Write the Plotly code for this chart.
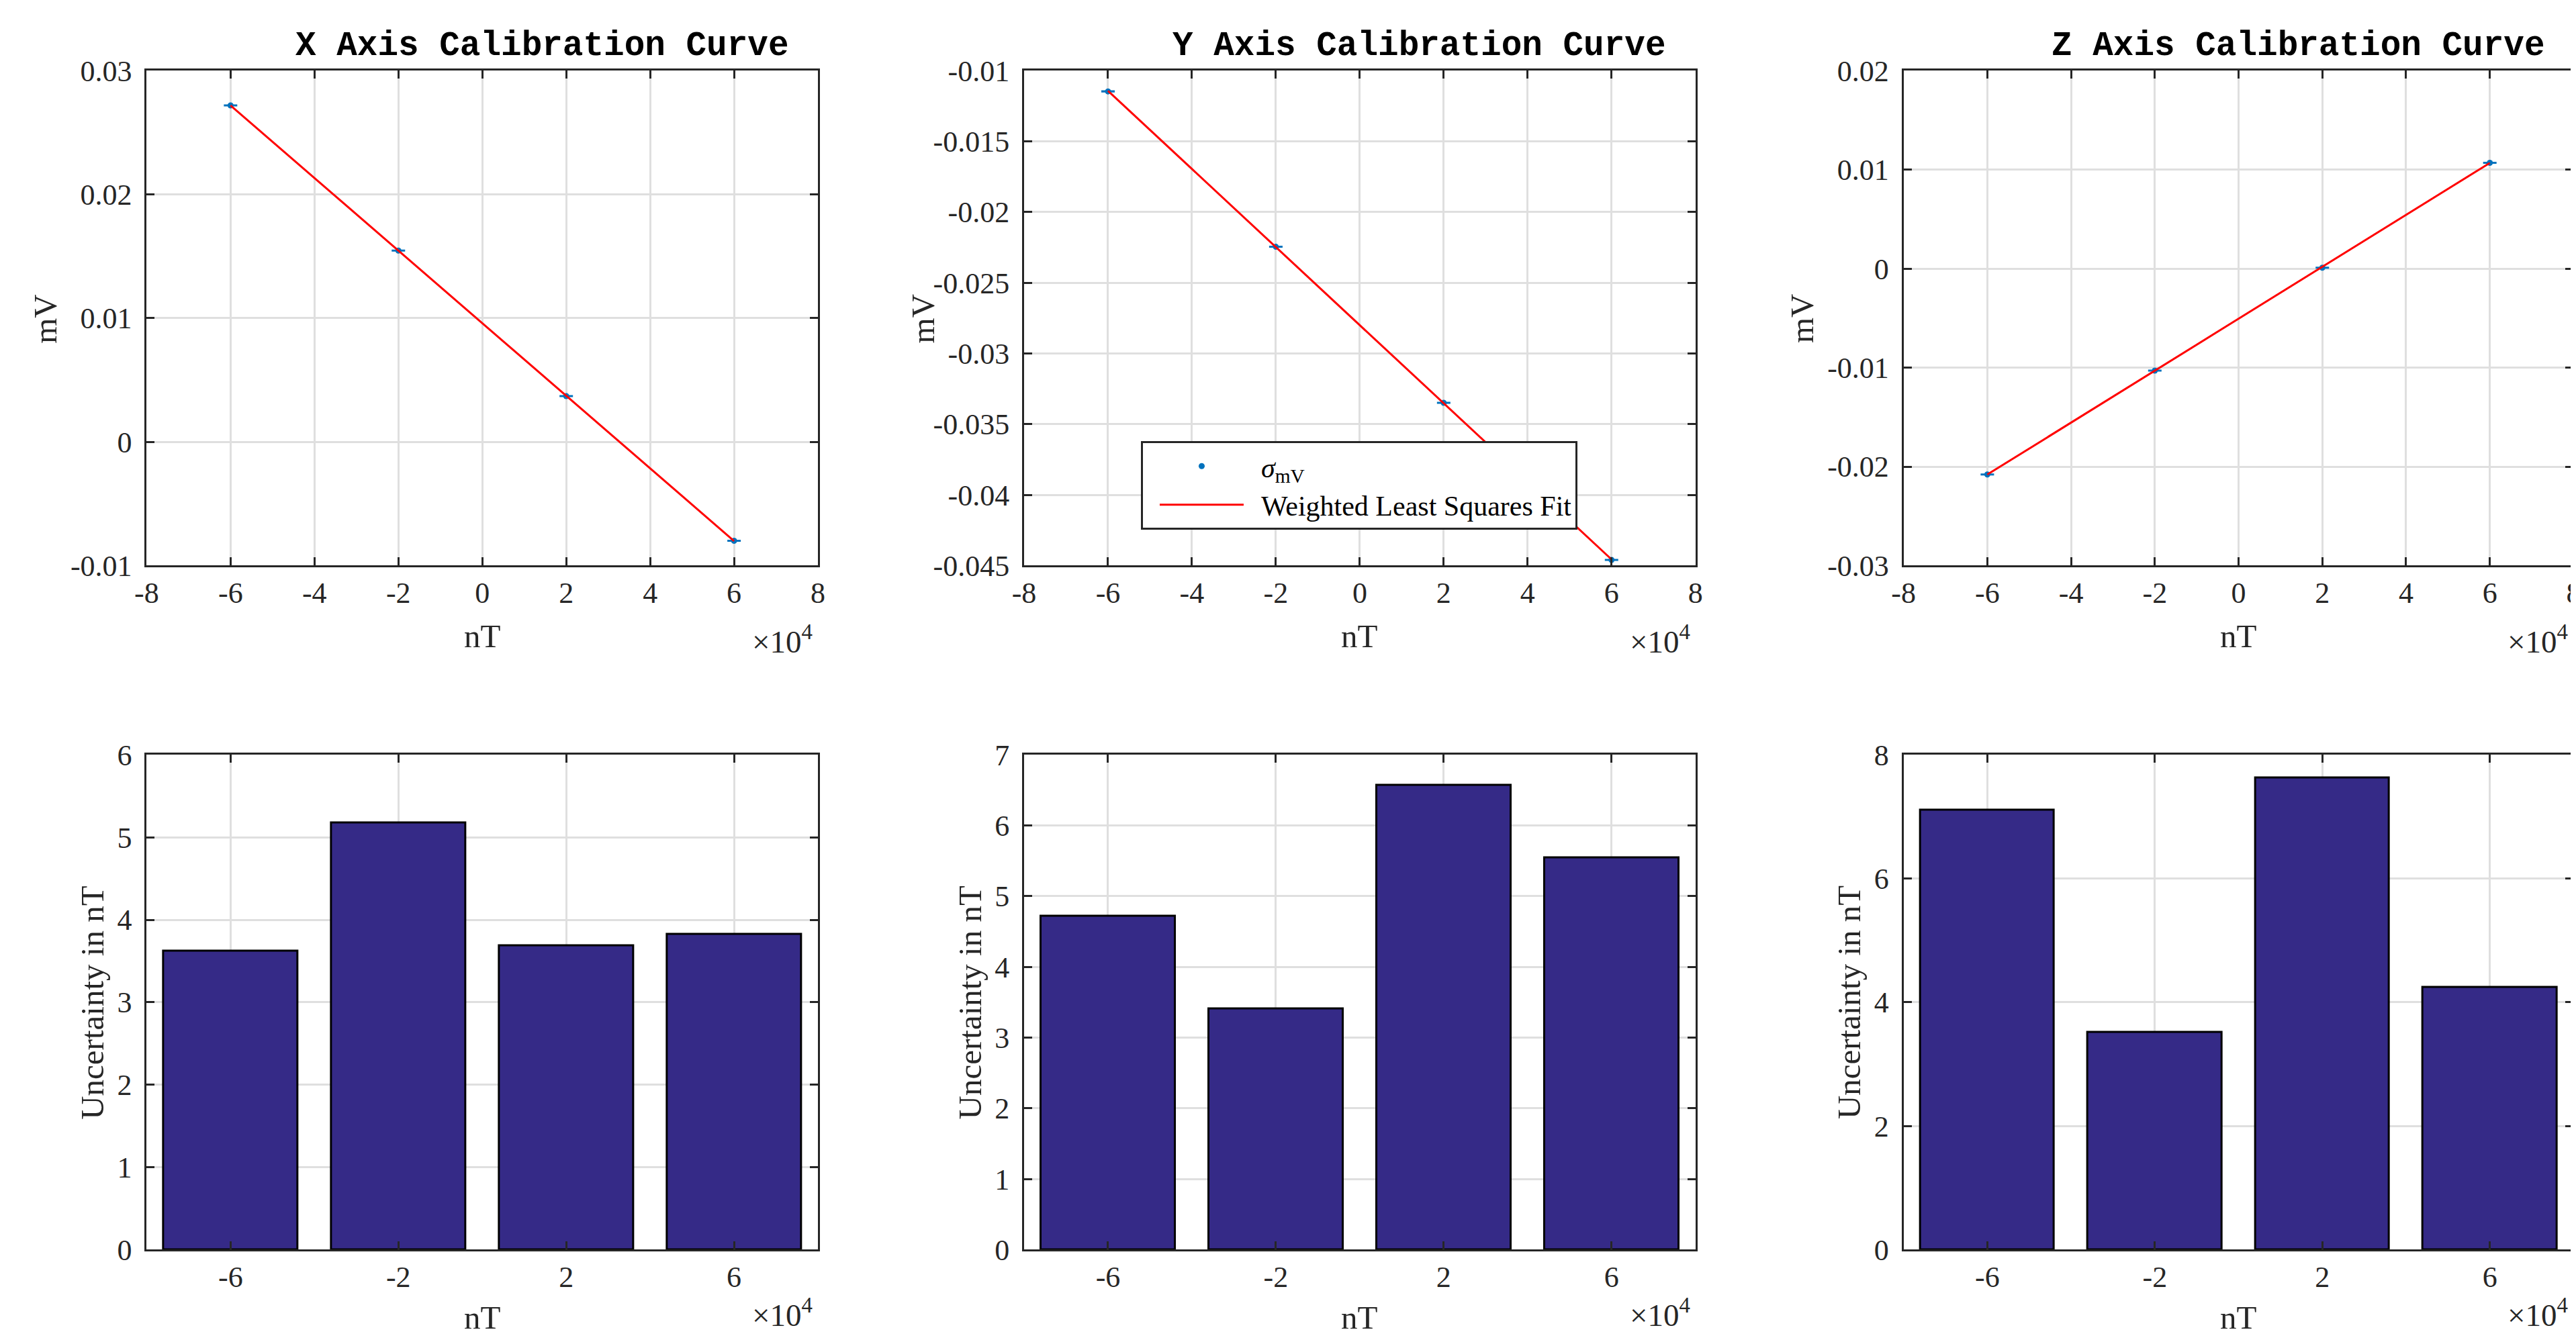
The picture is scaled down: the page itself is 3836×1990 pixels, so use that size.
import numpy as np
import plotly.graph_objects as go

# ---------------- data ----------------
nT = [-60000, -20000, 20000, 60000]

mV_x = [0.0272, 0.01546, 0.0037, -0.0080]
mV_y = [-0.01146, -0.02245, -0.03349, -0.0446]
mV_z = [-0.0208, -0.0103, 0.0001, 0.0107]

sigma_mV_x = [1.1e-6, 1.5e-6, 1.1e-6, 1.1e-6]
sigma_mV_y = [1.3e-6, 0.9e-6, 1.8e-6, 1.5e-6]
sigma_mV_z = [1.8e-6, 0.9e-6, 2.0e-6, 1.1e-6]

unc_x = [3.62, 5.18, 3.69, 3.83]
unc_y = [4.72, 3.41, 6.57, 5.55]
unc_z = [7.11, 3.52, 7.63, 4.24]

titles = ["X Axis Calibration Curve", "Y Axis Calibration Curve", "Z Axis Calibration Curve"]

x_tick_vals = [-80000, -60000, -40000, -20000, 0, 20000, 40000, 60000, 80000]
x_tick_text = ["-8", "-6", "-4", "-2", "0", "2", "4", "6", "8"]
bar_tick_vals = [-60000, -20000, 20000, 60000]
bar_tick_text = ["-6", "-2", "2", "6"]

y_ticks_x = [-0.01, 0, 0.01, 0.02, 0.03]
y_text_x = ["-0.01", "0", "0.01", "0.02", "0.03"]
y_ticks_y = [-0.045, -0.04, -0.035, -0.03, -0.025, -0.02, -0.015, -0.01]
y_text_y = ["-0.045", "-0.04", "-0.035", "-0.03", "-0.025", "-0.02", "-0.015", "-0.01"]
y_ticks_z = [-0.03, -0.02, -0.01, 0, 0.01, 0.02]
y_text_z = ["-0.03", "-0.02", "-0.01", "0", "0.01", "0.02"]

bar_y_ticks_x = [0, 1, 2, 3, 4, 5, 6]
bar_y_ticks_y = [0, 1, 2, 3, 4, 5, 6, 7]
bar_y_ticks_z = [0, 2, 4, 6, 8]

# ---------------- styling ----------------
W, H = 3836, 1990
BLUE = "#0072BD"
BAR = "rgb(53,42,135)"
AX = "#262626"
GRID = "rgb(223,223,223)"
SERIF = "Liberation Serif"
MONO = "Liberation Mono"

# observed effective drawing area of the page (offset / size)
L0, T0, WP, HP = 25.6, 31.6, 3808.0, 1941.0

col_px = [(218, 1218), (1525, 2525), (2835, 3833)]
row_px = [(105, 842), (1124, 1861)]


def px_x(v):
    return (v - L0) / WP


def px_y(v):
    return 1 - (v - T0) / HP


def clamp(v):
    return min(1.0, max(0.0, v))


def xd(c):
    return [clamp(px_x(col_px[c][0])), clamp(px_x(col_px[c][1]))]


def yd(r):
    return [clamp(px_y(row_px[r][1])), clamp(px_y(row_px[r][0]))]


axis_common = dict(
    showline=True, linecolor=AX, linewidth=3, mirror="ticks",
    ticks="inside", ticklen=12, tickwidth=3, tickcolor=AX,
    showgrid=True, gridcolor=GRID, gridwidth=3, zeroline=False,
    tickfont=dict(family=SERIF, size=44, color=AX),
)

fig = go.Figure()

mv_sets = [mV_x, mV_y, mV_z]
sig_sets = [sigma_mV_x, sigma_mV_y, sigma_mV_z]
unc_sets = [unc_x, unc_y, unc_z]
yt_sets = [(y_ticks_x, y_text_x), (y_ticks_y, y_text_y), (y_ticks_z, y_text_z)]
bar_yt = [bar_y_ticks_x, bar_y_ticks_y, bar_y_ticks_z]

layout = {}
annotations = []
for c in range(3):
    top = c + 1
    bot = c + 4
    xa_t = "x" if top == 1 else f"x{top}"
    ya_t = "y" if top == 1 else f"y{top}"
    xa_b, ya_b = f"x{bot}", f"y{bot}"

    mv = np.array(mv_sets[c])
    sg = np.array(sig_sets[c])
    xs = np.array(nT, dtype=float)
    coef = np.polyfit(xs, mv, 1, w=1.0 / sg)
    fit_x = np.array([xs.min(), xs.max()])
    fit_y = np.polyval(coef, fit_x)

    show = (c == 1)
    fig.add_trace(go.Scatter(
        x=nT, y=mv_sets[c], mode="markers", xaxis=xa_t, yaxis=ya_t,
        marker=dict(color=BLUE, size=9),
        error_y=dict(type="data", array=sig_sets[c], color=BLUE, width=10, thickness=3),
        name="&nbsp;&nbsp;<i>σ</i><sub>mV</sub>", showlegend=show,
    ))
    fig.add_trace(go.Scatter(
        x=fit_x, y=fit_y, mode="lines", xaxis=xa_t, yaxis=ya_t,
        line=dict(color="red", width=3),
        name="&nbsp;&nbsp;Weighted Least Squares Fit", showlegend=show,
    ))
    fig.add_trace(go.Bar(
        x=nT, y=unc_sets[c], xaxis=xa_b, yaxis=ya_b, width=32000,
        marker=dict(color=BAR, line=dict(color="black", width=3)),
        showlegend=False,
    ))

    yv, ytx = yt_sets[c]
    layout["xaxis" if top == 1 else f"xaxis{top}"] = dict(
        axis_common, domain=xd(c), anchor=ya_t, range=[-80000, 80000],
        tickmode="array", tickvals=x_tick_vals, ticktext=x_tick_text)
    layout["yaxis" if top == 1 else f"yaxis{top}"] = dict(
        axis_common, domain=yd(0), anchor=xa_t, range=[yv[0], yv[-1]],
        tickmode="array", tickvals=yv, ticktext=ytx, ticklabelstandoff=10)
    layout[f"xaxis{bot}"] = dict(
        axis_common, domain=xd(c), anchor=ya_b, range=[-80000, 80000],
        tickmode="array", tickvals=bar_tick_vals, ticktext=bar_tick_text)
    byt = bar_yt[c]
    layout[f"yaxis{bot}"] = dict(
        axis_common, domain=yd(1), anchor=xa_b, range=[byt[0], byt[-1]],
        tickmode="array", tickvals=byt, ticktext=[str(v) for v in byt],
        ticklabelstandoff=10)

    x0, x1 = col_px[c]
    cx = (x0 + x1) / 2
    # title
    annotations.append(dict(
        text=f"<b>{titles[c]}</b>", x=px_x(cx + 89), y=px_y(68), xref="paper", yref="paper",
        showarrow=False, font=dict(family=MONO, size=51, color="black"),
        xanchor="center", yanchor="middle"))
    # axis labels
    annotations.append(dict(
        text="mV", x=px_x(x0 - 151), y=px_y(474), xref="paper", yref="paper",
        showarrow=False, textangle=-90, font=dict(family=SERIF, size=49, color=AX),
        xanchor="center", yanchor="middle"))
    annotations.append(dict(
        text="Uncertainty in nT", x=px_x(x0 - 81), y=px_y(1493), xref="paper", yref="paper",
        showarrow=False, textangle=-90, font=dict(family=SERIF, size=49, color=AX),
        xanchor="center", yanchor="middle"))
    for ylab, ymul in ((947, 952), (1962, 1955)):
        annotations.append(dict(
            text="nT", x=px_x(cx), y=px_y(ylab), xref="paper", yref="paper",
            showarrow=False, font=dict(family=SERIF, size=49, color=AX),
            xanchor="center", yanchor="middle"))
        annotations.append(dict(
            text="×10<sup>4</sup>", x=px_x(x1 - 6), y=px_y(ymul), xref="paper", yref="paper",
            showarrow=False, font=dict(family=SERIF, size=47, color=AX),
            xanchor="right", yanchor="middle"))

fig.update_layout(
    width=W, height=H, margin=dict(l=0, r=0, t=0, b=0),
    paper_bgcolor="white", plot_bgcolor="white",
    annotations=annotations, bargap=0,
    legend=dict(
        x=px_x(1699), y=px_y(657), xanchor="left", yanchor="top",
        bgcolor="white", bordercolor=AX, borderwidth=3,
        font=dict(family=SERIF, size=42, color="black"),
        itemwidth=125, indentation=20,
    ),
    **layout,
)

fig.write_html("out.html")
